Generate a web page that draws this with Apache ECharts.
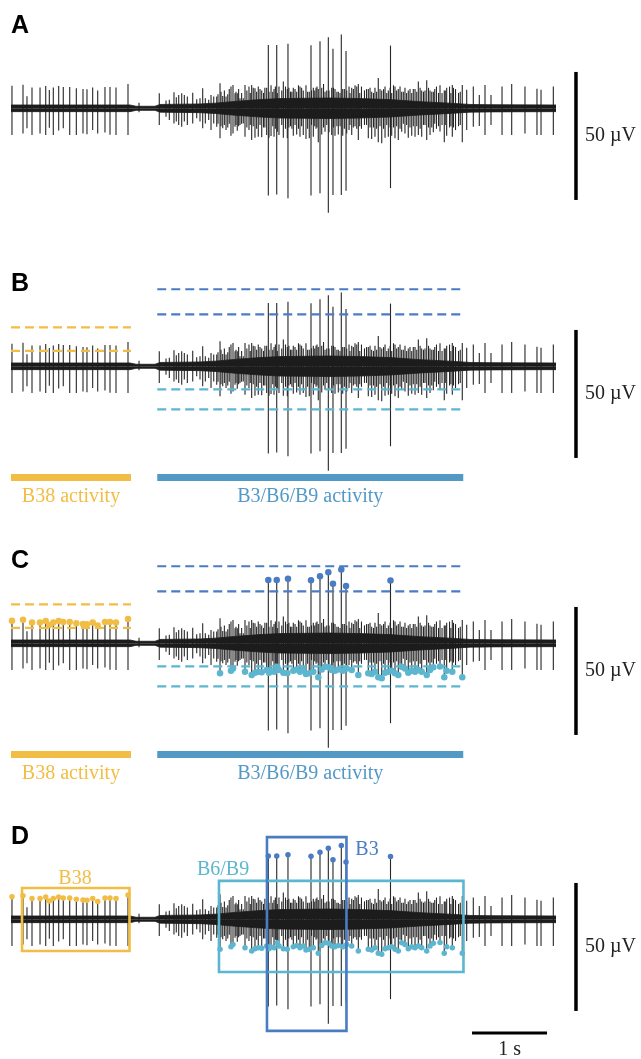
<!DOCTYPE html>
<html>
<head>
<meta charset="utf-8">
<title>Spike sorting</title>
<script src="https://cdn.jsdelivr.net/npm/echarts@6/dist/echarts.min.js"></script>
<style>
html, body { margin: 0; padding: 0; background: #fff; }
#chart { width: 641px; height: 1059px; }
</style>
</head>
<body>
<div id="chart"></div>
<script>
// time in s, amplitude in µV

// B38 spikes (detected, yellow)
var b38T    = [0.013, 0.16, 0.28, 0.387, 0.463, 0.511, 0.564, 0.636, 0.697, 0.783,
               0.871, 0.96, 1.013, 1.089, 1.156, 1.253, 1.32, 1.40, 1.56];
var b38Up   = [8.8, 9.2, 8.1, 8.1, 8.7, 7.1, 8.1, 8.7, 8.3, 8.3,
               7.8, 7.5, 7.4, 8.1, 7.0, 8.3, 8.3, 8.1, 9.5];
var b38Down = [-10.4, -9.8, -10.4, -9.8, -10.4, -7.6, -10.4, -8.7, -7.8, -10.4,
               -10.4, -9.8, -10.1, -8.5, -9.8, -9.5, -10.3, -10.4, -10.4];

// B3 spikes (large, dark blue)
var b3T    = [3.431, 3.543, 3.693, 4.0, 4.12, 4.231, 4.293, 4.404, 4.467, 5.06];
var b3Up   = [24.7, 24.7, 25.2, 24.6, 26.2, 27.8, 23.3, 28.8, 22.4, 24.5];
var b3Down = [-34.1, -33.7, -35.1, -34.1, -33.2, -40.8, -33.9, -33.9, -32.2, -31.2];

// B6/B9 spikes (negative peaks, light blue)
var b69T = [2.787, 2.933, 2.96, 3.12, 3.209, 3.253, 3.297, 3.343, 3.409, 3.44,
            3.467, 3.507, 3.551, 3.573, 3.631, 3.684, 3.764, 3.809, 3.853, 3.897,
            3.933, 3.977, 4.031, 4.097, 4.143, 4.187, 4.24, 4.276, 4.32, 4.364,
            4.423, 4.476, 4.543, 4.631, 4.764, 4.809, 4.853, 4.897, 4.943, 4.987,
            5.031, 5.076, 5.12, 5.164, 5.209, 5.253, 5.297, 5.343, 5.387, 5.431,
            5.476, 5.543, 5.587, 5.631, 5.72, 5.777, 5.809, 5.884, 6.017];
var b69Down = [-11.7, -10.7, -9.8, -11.1, -12.4, -11.5, -11.1, -11.3, -10.4, -11.5,
               -10.8, -11.1, -9.2, -10.4, -11.5, -11.7, -10.7, -10.2, -11.1, -10.4,
               -12.0, -11.7, -11.1, -13.3, -10.2, -9.2, -9.4, -10.4, -10.7, -10.2,
               -10.7, -9.8, -10.4, -12.4, -11.7, -12.0, -11.1, -13.3, -13.7, -11.5,
               -11.1, -10.7, -11.7, -12.4, -9.2, -9.8, -11.5, -10.7, -11.1, -10.4,
               -11.1, -12.4, -10.4, -9.4, -9.1, -13.3, -10.7, -11.1, -13.3];
var b69Up = [9.8, 8.5, 9.1, 9.1, 9.1, 7.8, 8.5, 7.0, 8.0, 6.5,
             9.0, 7.5, 6.0, 8.5, 10.5, 7.5, 8.0, 6.5, 8.5, 7.0,
             9.0, 6.5, 8.0, 7.5, 8.0, 6.5, 7.0, 8.0, 7.5, 6.5,
             7.5, 7.0, 8.0, 9.5, 7.5, 6.5, 8.0, 11.8, 7.0, 8.5,
             7.0, 6.0, 8.5, 7.5, 6.5, 8.0, 7.0, 6.0, 7.5, 10.5,
             7.0, 11.0, 7.0, 6.5, 9.0, 7.0, 8.0, 9.1, 9.1];

// other (unsorted) spikes
var otherT = [0.213, 1.707, 1.977, 2.067, 2.111, 2.173, 2.204, 2.236, 2.276, 2.311,
              2.351, 2.423, 2.476, 2.52, 2.556, 2.591, 2.636, 2.667, 2.703, 2.743,
              2.823, 2.867, 2.987, 3.017, 3.053, 3.097, 3.173, 3.367, 3.66, 3.727,
              3.833, 4.007, 4.067, 4.167, 4.387, 4.507, 4.587, 4.673, 4.713, 4.833,
              4.967, 5.1, 5.231, 5.364, 5.5, 5.567, 5.673, 5.747, 5.847, 5.927,
              5.967, 6.076, 6.164, 6.244, 6.32, 6.4, 6.547, 6.676, 6.853, 7.013,
              7.067, 7.231];
var otherUp = [4.7, 2.2, 5.9, 3.0, 3.3, 6.3, 4.3, 5.2, 5.9, 5.2,
               4.6, 6.1, 3.5, 3.9, 7.8, 3.9, 3.3, 5.2, 4.6, 4.6,
               4.8, 4.6, 5.9, 5.9, 3.9, 3.9, 8.5, 6.0, 8.5, 6.5,
               9.0, 7.0, 8.0, 9.5, 6.0, 8.5, 9.0, 8.5, 7.0, 6.0,
               7.5, 9.0, 6.5, 7.5, 6.5, 8.0, 8.5, 6.0, 8.5, 7.5,
               6.0, 7.2, 8.5, 5.2, 9.1, 5.2, 8.5, 9.5, 8.5, 7.6,
               7.2, 8.5];
var otherDown = [-7.8, -1.5, -6.5, -3.3, -4.6, -5.9, -5.2, -6.5, -7.2, -5.2,
                 -6.5, -5.9, -3.9, -5.2, -7.8, -5.9, -4.6, -8.5, -5.9, -7.2,
                 -7.8, -8.5, -7.2, -8.8, -6.5, -5.9, -8.5, -7.5, -8.0, -7.0,
                 -8.0, -6.5, -8.0, -7.5, -7.0, -8.5, -7.0, -8.0, -6.5, -7.5,
                 -8.0, -7.5, -6.0, -7.0, -6.5, -7.5, -8.0, -6.5, -7.5, -8.5,
                 -7.0, -8.5, -7.2, -6.9, -10.4, -6.5, -10.4, -10.4, -9.8, -10.4,
                 -10.4, -10.4];

// smaller unsorted spikes filling the burst
var burstT = [2.76, 2.80, 2.845, 2.89, 2.91, 3.0, 3.035, 3.075, 3.145, 3.19,
              3.23, 3.275, 3.32, 3.385, 3.49, 3.525, 3.61, 3.705, 3.745, 3.787,
              3.875, 3.955, 4.05, 4.08, 4.21, 4.30, 4.345, 4.445, 4.52, 4.565,
              4.61, 4.65, 4.74, 4.787, 4.875, 4.92, 5.01, 5.055, 5.142, 5.187,
              5.275, 5.32, 5.41, 5.455, 5.52, 5.61, 5.65, 5.70, 5.79, 5.865,
              5.90, 5.99];
var burstUp = [5.5, 6.5, 7.0, 5.5, 7.5, 6.5, 7.5, 6.0, 7.0, 6.0,
               8.0, 6.5, 7.5, 8.0, 6.5, 8.5, 7.0, 8.0, 6.5, 7.5,
               8.0, 6.5, 7.0, 8.5, 7.0, 8.0, 6.5, 7.5, 6.0, 7.5,
               8.5, 6.0, 7.5, 8.0, 6.5, 7.5, 6.0, 8.0, 7.0, 8.5,
               6.0, 7.5, 6.5, 8.0, 7.0, 6.5, 7.5, 6.0, 7.0, 6.0,
               8.0, 6.5];
var burstDown = [-6.0, -7.0, -6.5, -7.5, -6.0, -6.5, -7.0, -6.0, -7.5, -6.5,
                 -7.0, -8.0, -6.5, -7.5, -7.0, -8.0, -6.5, -7.5, -8.0, -6.5,
                 -7.0, -8.0, -7.0, -7.5, -6.5, -7.5, -7.0, -8.0, -6.5, -7.5,
                 -8.0, -7.0, -6.5, -7.5, -8.0, -7.0, -6.5, -7.5, -7.0, -8.0,
                 -6.5, -7.5, -7.0, -8.0, -6.5, -7.5, -6.0, -7.0, -6.5, -7.0,
                 -7.5, -6.5];

// baseline noise envelope (half width)
var noiseT   = [0, 1.587, 1.667, 1.92, 1.987, 2.52, 2.72, 2.987, 3.32, 3.587,
                4.253, 4.653, 5.053, 5.453, 5.853, 6.12, 6.387, 7.267];
var noiseAmp = [1.3, 1.3, 0.8, 0.8, 1.5, 1.7, 2.0, 2.7, 3.4, 3.8,
                4.0, 3.8, 3.4, 2.6, 2.0, 1.5, 1.4, 1.3];

// thresholds and windows
var thrB38 = [15.2, 6.0];
var thrB3  = [30.1, 20.3];
var thrB69 = [-9.0, -16.8];
var b38Span   = [0, 1.6];
var burstSpan = [1.95, 6.03];

// boxes in D: [t0, t1, vTop, vBottom]
var boxB38 = [0.147, 1.58, 12.2, -12.4];
var boxB69 = [2.773, 6.033, 15.0, -20.6];
var boxB3  = [3.413, 4.473, 32.1, -43.6];

// scale bars
var vBarT = 7.533, vBar = [14.2, -35.8];   // 50 µV
var tBar = [6.147, 7.147], tBarV = -44.4;  // 1 s

var YEL = '#F2BD44', BLU = '#4A7CC4', CYA = '#5CB6D0', BAR = '#5399C6';
var SERIF = '20px "Liberation Serif"';

var panels = ['A', 'B', 'C', 'D'];
var gridTop = [18.7, 276.7, 553.7, 829.7];

function zip(t, a, b) {
    return t.map(function (v, i) { return b ? [v, a[i], b[i]] : [v, a[i]]; });
}

var spikeData = [].concat(zip(otherT, otherDown, otherUp), zip(burstT, burstDown, burstUp),
                          zip(b38T, b38Down, b38Up), zip(b69T, b69Down, b69Up),
                          zip(b3T, b3Down, b3Up));

function renderSpike(params, api) {
    var a = api.coord([api.value(0), api.value(2)]);
    var b = api.coord([api.value(0), api.value(1)]);
    return {type: 'line', shape: {x1: a[0], y1: a[1], x2: b[0], y2: b[1]},
            style: {stroke: '#262626', lineWidth: 1.1}};
}

function hline(i, t, v, color, width, dash, z) {
    return {type: 'line', xAxisIndex: i, yAxisIndex: i, z: z || 4, silent: true,
            data: [[t[0], v], [t[1], v]], symbol: 'none', animation: false,
            lineStyle: {color: color, width: width, type: dash || 'solid', cap: 'butt'}};
}

function texts(i, items) {
    return {type: 'custom', xAxisIndex: i, yAxisIndex: i, z: 10, silent: true,
        data: items.map(function (d) { return [d[0], d[1]]; }),
        renderItem: function (params, api) {
            var c = api.coord([api.value(0), api.value(1)]);
            var it = items[params.dataIndex];
            return {type: 'text', x: c[0], y: c[1],
                    style: {text: it[2], fill: it[3], font: SERIF,
                            align: it[4] || 'center', verticalAlign: 'middle'}};
        }};
}

function boxes(i, list) {
    return {type: 'custom', xAxisIndex: i, yAxisIndex: i, z: 6, silent: true,
        data: list.map(function (b) { return b[0]; }),
        renderItem: function (params, api) {
            var b = list[params.dataIndex][0];
            var p0 = api.coord([b[0], b[2]]);
            var p1 = api.coord([b[1], b[3]]);
            return {type: 'rect', shape: {x: p0[0], y: p0[1], width: p1[0] - p0[0], height: p1[1] - p0[1]},
                    style: {fill: 'none', stroke: list[params.dataIndex][1], lineWidth: 2.6}};
        }};
}

function dots(i, data, color, size) {
    return {type: 'scatter', xAxisIndex: i, yAxisIndex: i, z: 5, silent: true,
            data: data, symbolSize: size, itemStyle: {color: color, opacity: 1}};
}

var grids = [], xAxes = [], yAxes = [], series = [];

panels.forEach(function (p, i) {
    grids.push({left: 11, width: 630, top: gridTop[i], height: 212.48});
    xAxes.push({type: 'value', gridIndex: i, min: 0, max: 8.4, show: false});
    yAxes.push({type: 'value', gridIndex: i, min: -48, max: 35, show: false});

    series.push({type: 'custom', xAxisIndex: i, yAxisIndex: i, z: 2, silent: true,
                 data: spikeData, encode: {x: 0, y: [1, 2]}, renderItem: renderSpike});

    [1, -1].forEach(function (s) {
        series.push({type: 'line', xAxisIndex: i, yAxisIndex: i, z: 3, silent: true,
                     symbol: 'none', animation: false,
                     data: noiseT.map(function (t, k) { return [t, s * noiseAmp[k]]; }),
                     lineStyle: {color: '#1c1c1c', width: 0.8},
                     areaStyle: {color: '#1c1c1c', opacity: 1}});
    });

    series.push({type: 'line', xAxisIndex: i, yAxisIndex: i, z: 4, silent: true, symbol: 'none',
                 data: [[vBarT, vBar[0]], [vBarT, vBar[1]]],
                 lineStyle: {color: '#000', width: 3.5, cap: 'butt'}});
    var tx = [[vBarT + 0.12, -10.6, '50 µV', '#222', 'left']];

    if (p === 'B' || p === 'C') {
        var dash = [9, 5];
        thrB38.forEach(function (v) { series.push(hline(i, b38Span, v, YEL, 2.2, dash)); });
        thrB3.forEach(function (v) { series.push(hline(i, burstSpan, v, BLU, 2.2, dash)); });
        thrB69.forEach(function (v) { series.push(hline(i, burstSpan, v, CYA, 2.2, dash)); });
        series.push(hline(i, b38Span, -43.4, YEL, 7));
        series.push(hline(i, burstSpan, -43.4, BAR, 7));
        tx.push([(b38Span[0] + b38Span[1]) / 2, -51, 'B38 activity', YEL]);
        tx.push([(burstSpan[0] + burstSpan[1]) / 2, -51, 'B3/B6/B9 activity', BAR]);
    }

    if (p === 'C' || p === 'D') {
        var sz = p === 'C' ? 6.5 : 5.5;
        series.push(dots(i, zip(b38T, b38Up), YEL, sz));
        series.push(dots(i, zip(b69T, b69Down), CYA, sz));
        series.push(dots(i, zip(b3T, b3Up), BLU, sz));
    }

    if (p === 'D') {
        series.push(boxes(i, [[boxB38, YEL], [boxB69, CYA], [boxB3, BLU]]));
        series.push(hline(i, tBar, tBarV, '#000', 3));
        tx.push([(tBar[0] + tBar[1]) / 2, tBarV - 6.6, '1 s', '#222']);
        tx.push([0.853, 16.0, 'B38', YEL]);
        tx.push([2.827, 19.5, 'B6/B9', CYA]);
        tx.push([4.747, 27.0, 'B3', BLU]);
    }
    series.push(texts(i, tx));
});

var chart = echarts.init(document.getElementById('chart'), null, {renderer: 'canvas'});
chart.setOption({
    animation: false,
    backgroundColor: '#fff',
    grid: grids,
    xAxis: xAxes,
    yAxis: yAxes,
    graphic: panels.map(function (p, i) {
        return {type: 'text', x: 11, y: gridTop[i] + 7, silent: true,
                style: {text: p, fill: '#000', font: 'bold 25px "Liberation Sans"',
                        verticalAlign: 'middle'}};
    }),
    series: series
});
</script>
</body>
</html>
